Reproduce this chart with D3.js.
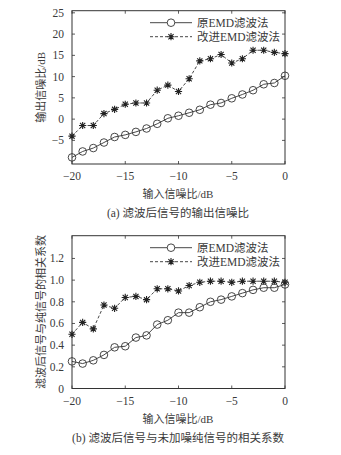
<!DOCTYPE html>
<html>
<head>
<meta charset="utf-8">
<script src="https://cdn.jsdelivr.net/npm/d3@7"></script>
<style>
  body { margin: 0; background: #fff; }
  text { font-family: "Liberation Serif", "Noto Sans CJK SC", serif; fill: #3a3a3a; }
</style>
</head>
<body>
<svg id="chart" width="341" height="455"></svg>
<script>
// input SNR (dB), shared by both panels
var snrIn = [-20, -19, -18, -17, -16, -15, -14, -13, -12, -11, -10, -9, -8, -7, -6, -5, -4, -3, -2, -1, 0];

// panel (a): output SNR
var snrOrig = [-9.0, -7.6, -6.8, -5.5, -4.2, -3.7, -3.0, -2.2, -1.1, 0.2, 0.8, 1.5, 2.2, 3.4, 3.8, 4.9, 5.8, 6.8, 8.2, 8.5, 10.2];
var snrImpr = [-4.0, -1.5, -1.5, 1.3, 2.3, 3.5, 3.8, 3.8, 6.8, 8.0, 6.5, 9.5, 13.7, 14.2, 15.2, 13.2, 14.2, 16.2, 16.2, 15.7, 15.4];

// panel (b): correlation with clean signal
var corrOrig = [0.25, 0.23, 0.26, 0.31, 0.38, 0.39, 0.47, 0.49, 0.59, 0.63, 0.70, 0.70, 0.75, 0.80, 0.82, 0.85, 0.88, 0.91, 0.93, 0.93, 0.96];
var corrImpr = [0.50, 0.61, 0.55, 0.77, 0.74, 0.84, 0.85, 0.82, 0.92, 0.92, 0.90, 0.95, 0.98, 0.99, 0.99, 0.98, 0.99, 0.99, 0.99, 0.99, 0.98];

var xTicks = [-20, -15, -10, -5, 0];
var yTicksA = [-5, 0, 5, 10, 15, 20, 25];
var yTicksB = [0, 0.2, 0.4, 0.6, 0.8, 1.0, 1.2];
var seriesNames = ["原EMD滤波法", "改进EMD滤波法"];

var svg = d3.select("#chart");
var ink = "#333";

function drawStar(sel, px, py) {
  sel.append("path")
    .attr("d", "M-3.6,0h7.2M0,-3.6v7.2M-2.6,-2.6l5.2,5.2M-2.6,2.6l5.2,-5.2")
    .attr("transform", "translate(" + px + "," + py + ")")
    .attr("stroke", "#222").attr("stroke-width", 1.1).attr("fill", "none");
}

function panel(cfg) {
  var x = d3.scaleLinear().domain([-20, 0]).range([72, 285]);
  var y = d3.scaleLinear().domain(cfg.yDomain).range([cfg.bottom, cfg.top]);
  var g = svg.append("g");

  // ticks inside on all four sides
  var tl = 3;
  g.selectAll(".xt").data(xTicks).enter().append("path")
    .attr("d", function(d) {
      return "M" + x(d) + "," + cfg.bottom + "v" + (-tl) + "M" + x(d) + "," + cfg.top + "v" + tl;
    })
    .attr("stroke", ink).attr("stroke-width", 0.8);
  g.selectAll(".yt").data(cfg.yTicks).enter().append("path")
    .attr("d", function(d) {
      return "M72," + y(d) + "h" + tl + "M285," + y(d) + "h" + (-tl);
    })
    .attr("stroke", ink).attr("stroke-width", 0.8);

  g.append("rect")
    .attr("x", 72).attr("y", cfg.top)
    .attr("width", 213).attr("height", cfg.bottom - cfg.top)
    .attr("fill", "none").attr("stroke", ink).attr("stroke-width", 1);

  g.selectAll(".xl").data(xTicks).enter().append("text")
    .attr("x", function(d) { return x(d); })
    .attr("y", cfg.bottom + 16)
    .attr("text-anchor", "middle")
    .style("font-size", "11.5px")
    .text(function(d) { return d3.format("d")(d); });
  g.selectAll(".yl").data(cfg.yTicks).enter().append("text")
    .attr("x", 64)
    .attr("y", function(d) { return y(d) + 4; })
    .attr("text-anchor", "end")
    .style("font-size", "11.5px")
    .text(cfg.fmt);

  g.append("text")
    .attr("x", 178).attr("y", cfg.bottom + 34)
    .attr("text-anchor", "middle").style("font-size", "11px")
    .text("输入信噪比/dB");
  g.append("text")
    .attr("x", 178).attr("y", cfg.bottom + 53)
    .attr("text-anchor", "middle").style("font-size", "11.5px")
    .text(cfg.caption);
  g.append("text")
    .attr("transform", "translate(45," + ((cfg.top + cfg.bottom) / 2) + ")rotate(-90)")
    .attr("text-anchor", "middle").style("font-size", "11px")
    .text(cfg.yLabel);

  var line = d3.line()
    .x(function(d, i) { return x(snrIn[i]); })
    .y(function(d) { return y(d); });

  // improved method: dashed with asterisks
  g.append("path").datum(cfg.impr)
    .attr("d", line).attr("fill", "none")
    .attr("stroke", ink).attr("stroke-width", 0.9).attr("stroke-dasharray", "3,2");
  cfg.impr.forEach(function(v, i) { drawStar(g, x(snrIn[i]), y(v)); });

  // original method: solid with circles
  g.append("path").datum(cfg.orig)
    .attr("d", line).attr("fill", "none")
    .attr("stroke", ink).attr("stroke-width", 0.9);
  g.selectAll(".c").data(cfg.orig).enter().append("circle")
    .attr("cx", function(d, i) { return x(snrIn[i]); })
    .attr("cy", function(d) { return y(d); })
    .attr("r", 3.8)
    .attr("fill", "none").attr("stroke", ink).attr("stroke-width", 0.9);

  // legend
  var ly1 = cfg.top + 12, ly2 = cfg.top + 26;
  g.append("path").attr("d", "M150," + ly1 + "H192").attr("stroke", ink).attr("stroke-width", 0.9);
  g.append("circle").attr("cx", 171).attr("cy", ly1).attr("r", 3.8)
    .attr("fill", "#fff").attr("stroke", ink).attr("stroke-width", 0.9);
  g.append("path").attr("d", "M150," + ly2 + "H192").attr("stroke", ink)
    .attr("stroke-width", 0.9).attr("stroke-dasharray", "3,2");
  drawStar(g, 171, ly2);
  g.append("text").attr("x", 197).attr("y", ly1 + 4).style("font-size", "11.5px").text(seriesNames[0]);
  g.append("text").attr("x", 197).attr("y", ly2 + 4).style("font-size", "11.5px").text(seriesNames[1]);
}

panel({
  top: 10.7, bottom: 164, yDomain: [-10.55, 25.5], yTicks: yTicksA,
  fmt: function(d) { return d3.format("d")(d); },
  orig: snrOrig, impr: snrImpr,
  yLabel: "输出信噪比/dB", caption: "(a) 滤波后信号的输出信噪比"
});
panel({
  top: 235.7, bottom: 388.5, yDomain: [0, 1.41], yTicks: yTicksB,
  fmt: function(d) { return d === 0 ? "0" : d.toFixed(1); },
  orig: corrOrig, impr: corrImpr,
  yLabel: "滤波后信号与纯信号的相关系数", caption: "(b) 滤波后信号与未加噪纯信号的相关系数"
});
</script>
</body>
</html>
